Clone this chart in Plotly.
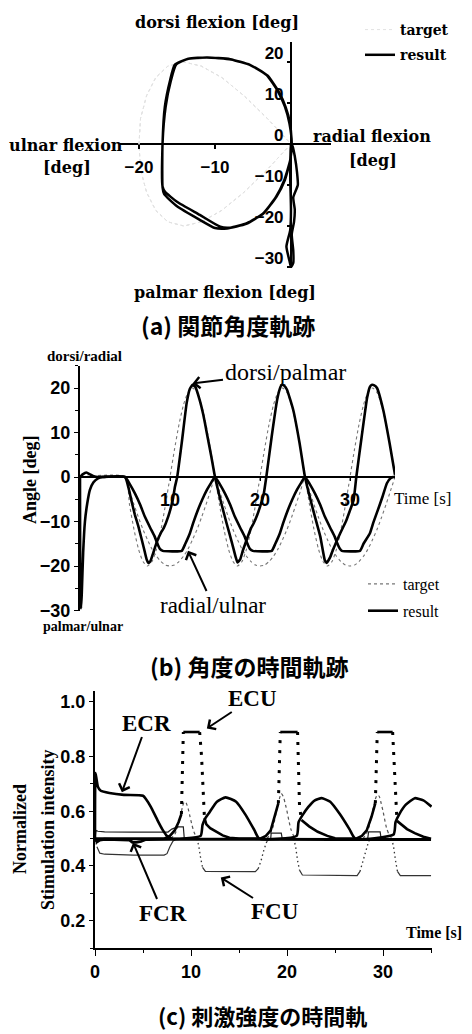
import plotly.graph_objects as go

W, H = 472, 1034

# ---------------- (a) joint angle trajectory (result: radial/ulnar vs dorsi/palmar) ----------------
traj_radial = [0.0, -0.1, 0.0, -0.1, -0.6, -0.2, 0.0, 0.3, 0.3, 0.1, 0.4, 0.5, 0.3, 0.9, 0.8, 0.5, 0.2, 0.0,
               -0.1, -0.8, -1.9, -3.6, -5.8, -8.0, -9.3, -12.0, -15.0, -16.6, -16.9, -16.9, -16.6, -15.9, -15.3,
               -13.7, -11.1, -8.0, -5.4, -3.2, -1.7, -0.8, -0.2, 0.1,
               -0.1, -0.9, -2.0, -3.7, -5.9, -8.4, -10.0, -12.0, -15.0, -16.7, -16.9, -16.9, -16.5, -15.8, -15.1,
               -13.5, -11.0, -7.9, -5.3, -3.1, -1.6, -0.7, -0.1, 0.1]
traj_dorsi = [0.0, -8.0, -16.0, -21.0, -25.0, -28.5, -30.0, -29.0, -26.0, -22.0, -19.0, -16.0, -13.0, -10.0, -7.0, -3.0, -0.5, 0.0,
              -3.9, -8.8, -12.8, -16.9, -19.3, -20.4, -20.2, -17.3, -14.1, -11.6, -10.4, 0.2, 9.1, 15.6, 19.3,
              20.7, 21.1, 20.7, 19.3, 16.8, 12.8, 9.1, 5.0, 0.2,
              -3.9, -8.9, -13.0, -17.0, -19.5, -20.6, -20.5, -18.5, -15.2, -12.2, -10.6, 0.2, 9.0, 15.5, 19.4,
              20.8, 21.1, 20.6, 19.2, 16.7, 12.7, 9.0, 4.9, 0.2]

# ---------------- (b) angle time courses ----------------
dp_time = [0, 0.05, 0.12, 0.2, 0.35, 0.55, 0.8, 1.1, 1.5, 2.0, 2.5, 5.0,
           5.4, 5.7, 6.1, 6.5, 7.1, 7.4, 7.6, 7.8, 8.0, 8.5, 9.0, 9.3, 9.8, 10.3, 10.55, 10.8, 11.3, 11.85, 12.2,
           12.5, 12.8, 13.3, 13.7, 14.1, 14.6, 15.0, 15.7, 16.3, 16.9, 17.3, 17.5,
           17.8, 18.1, 18.5, 19.0, 19.3, 19.7, 20.0, 20.4, 20.7, 21.3, 21.9, 22.2, 22.4, 22.7, 23.0, 23.7, 24.4,
           25.0, 25.9, 26.7, 27.2, 27.4,
           27.8, 28.1, 28.5, 28.9, 29.3, 29.6, 30.0, 30.4, 30.7, 31.3, 31.9, 32.2, 32.4, 32.7, 33.0, 33.7, 34.4, 35.0]
dp_result = [0, -28, -29.5, -26, -17, -10, -6, -2.9, -1.2, -0.3, 0, 0,
             -2.5, -5.2, -8.5, -11.2, -16, -18.5, -19.3, -19, -17.9, -14.8, -12.5, -11.5, -8.9, -5.2, -2.2, 0, 7.6,
             16.6, 19.8, 20.7, 20.3, 17.3, 14, 9.8, 4.5, 0, -5.9, -10.5, -14.9, -18, -19.2,
             -18.5, -16.5, -14.2, -11.5, -10.4, -8.5, -6.7, -4, 0, 9.1, 17.3, 19.8, 20.7, 20.5, 19.6, 15, 7.6,
             0, -7.4, -13.4, -18.7, -19.3,
             -18, -16.4, -14.5, -12.7, -11, -9.7, -7.5, -5.2, 0, 9.1, 17.8, 20.2, 20.7, 20.6, 20, 15, 7.6, 0.5]
ru_time = [0, 0.3, 0.7, 1.2, 1.6, 2.0, 5.0, 5.5, 6.1, 6.7, 7.2, 7.8, 8.3, 8.6, 8.9, 9.2, 11.3, 11.7, 12.2, 12.6,
           13.1, 13.6, 14.1, 14.6, 15.0,
           15.5, 16.1, 16.7, 17.2, 17.8, 18.3, 18.6, 18.9, 19.2, 21.3, 21.7, 22.2, 22.6, 23.1, 23.6, 24.1, 24.6, 25.0,
           25.5, 26.1, 26.7, 27.2, 27.8, 28.3, 28.6, 28.9, 29.1, 31.1, 31.5, 32.2, 32.6, 33.1, 33.6, 34.1, 34.5,
           34.8, 35.0]
ru_result = [0, 0.6, 1.0, 0.5, 0.1, 0, 0, -1.5, -3.7, -6.3, -8.9, -11.4, -13.4, -15, -16.2, -16.6, -16.6, -15,
             -12.7, -10.2, -7.4, -5, -2.9, -1.2, 0,
             -1.5, -3.7, -6.3, -8.9, -11.4, -13.4, -15, -16.2, -16.6, -16.6, -15, -12.7, -10.2, -7.4, -5, -2.9,
             -1.2, 0,
             -1.5, -3.7, -6.3, -8.9, -11.4, -13.4, -15, -16.2, -16.6, -16.6, -15, -12.7, -10.2, -7.4, -4.5, -1.4,
             -0.3, 0, 0]
target_time = [0, 5.0, 5.5, 6.0, 6.5, 7.0, 7.5, 8.0, 8.5, 9.0, 9.5, 10.0, 10.5, 11.0, 11.5, 12.0, 12.5, 13.0, 13.5,
               14.0, 14.5, 15.0, 15.5, 16.0, 16.5, 17.0, 17.5, 18.0, 18.5, 19.0, 19.5, 20.0, 20.5, 21.0, 21.5,
               22.0, 22.5, 23.0, 23.5, 24.0, 24.5, 25.0, 25.5, 26.0, 26.5, 27.0, 27.5, 28.0, 28.5, 29.0, 29.5,
               30.0, 30.5, 31.0, 31.5, 32.0, 32.5, 33.0, 33.5, 34.0, 34.5, 35.0]
target_dp = [0, 0, -6.2, -11.8, -16.2, -19.0, -20, -19.0, -16.2, -11.8, -6.2, 0, 6.2, 11.8, 16.2, 19.0, 20, 19.0,
             16.2, 11.8, 6.2, 0, -6.2, -11.8, -16.2, -19.0, -20, -19.0, -16.2, -11.8, -6.2, 0, 6.2, 11.8, 16.2,
             19.0, 20, 19.0, 16.2, 11.8, 6.2, 0, -6.2, -11.8, -16.2, -19.0, -20, -19.0, -16.2, -11.8, -6.2, 0,
             6.2, 11.8, 16.2, 19.0, 20, 19.0, 16.2, 11.8, 6.2, 0]
target_ru = [0, 0, -3.1, -6.2, -9.1, -11.8, -14.1, -16.2, -17.8, -19.0, -19.8, -20, -19.8, -19.0, -17.8, -16.2,
             -14.1, -11.8, -9.1, -6.2, -3.1, 0, -3.1, -6.2, -9.1, -11.8, -14.1, -16.2, -17.8, -19.0, -19.8, -20,
             -19.8, -19.0, -17.8, -16.2, -14.1, -11.8, -9.1, -6.2, -3.1, 0, -3.1, -6.2, -9.1, -11.8, -14.1, -16.2,
             -17.8, -19.0, -19.8, -20, -19.8, -19.0, -17.8, -16.2, -14.1, -11.8, -9.1, -6.2, -3.1, 0]

# ---------------- (c) normalized stimulation intensity ----------------
ecr_time = [0, 0.05, 0.15, 0.3, 0.6, 1.5, 3.0, 5.0, 5.3, 5.8, 6.5, 7.0, 7.5, 8.0,
            11.0, 11.2, 11.5, 11.9, 12.7, 13.6, 14.7, 15.7, 16.6, 17.1,
            21.0, 21.2, 21.6, 22.2, 22.9, 23.6, 24.5, 25.5, 26.5, 27.1,
            31.1, 31.3, 31.7, 32.4, 33.3, 34.2, 35.05]
ecr_val = [0.5, 0.74, 0.72, 0.69, 0.675, 0.667, 0.66, 0.657, 0.645, 0.617, 0.568, 0.535, 0.51, 0.5,
           0.51, 0.55, 0.575, 0.595, 0.635, 0.651, 0.635, 0.586, 0.531, 0.5,
           0.51, 0.56, 0.585, 0.615, 0.64, 0.648, 0.635, 0.59, 0.535, 0.5,
           0.515, 0.56, 0.59, 0.625, 0.648, 0.64, 0.617]
ecu_time = [0, 7.2, 7.8, 8.3, 8.7, 9.0, 9.1, 9.2, 10.9, 11.1, 11.3, 11.4, 11.6, 12.0, 12.6, 13.3, 14.0, 15.0,
            17.2, 17.8, 18.3, 18.8, 19.1, 19.2, 19.3, 21.1, 21.2, 21.3, 21.5, 22.3, 23.2, 24.2, 25.0,
            27.2, 27.8, 28.3, 28.8, 29.2, 29.3, 29.4, 31.0, 31.15, 31.3, 31.45, 31.8, 32.5, 33.3, 34.2, 35.0]
ecu_val = [0.5, 0.5, 0.51, 0.53, 0.56, 0.59, 0.7, 0.89, 0.89, 0.8, 0.65, 0.575, 0.552, 0.538, 0.525, 0.512, 0.503, 0.5,
           0.5, 0.51, 0.53, 0.59, 0.63, 0.75, 0.89, 0.89, 0.78, 0.62, 0.568, 0.545, 0.525, 0.51, 0.501,
           0.5, 0.51, 0.53, 0.58, 0.63, 0.75, 0.89, 0.89, 0.78, 0.63, 0.565, 0.555, 0.535, 0.52, 0.507, 0.5]
fcr_time = [0, 0.2, 0.5, 1.0, 2.0, 3.6, 3.9, 4.3, 4.8, 5.3, 8.0, 15.0, 25.0, 35.0]
fcr_val = [0.5, 0.488, 0.495, 0.498, 0.497, 0.495, 0.487, 0.487, 0.49, 0.497, 0.498, 0.497, 0.497, 0.497]
fcu_time = [0, 0.2, 0.5, 1.0, 4.0, 7.2, 7.5, 7.8, 8.1, 8.5, 10.6, 10.8, 11.0, 11.2, 11.5, 16.7, 17.0, 17.3, 17.6,
            17.9, 18.2, 20.7, 20.9, 21.1, 21.3, 21.6, 27.3, 27.6, 27.9, 28.2, 28.5, 28.8, 30.9, 31.1, 31.3, 31.5,
            31.8, 35.0]
fcu_val = [0.5, 0.47, 0.447, 0.443, 0.44, 0.44, 0.445, 0.47, 0.49, 0.5, 0.5, 0.475, 0.43, 0.395, 0.38, 0.379, 0.39,
           0.42, 0.46, 0.49, 0.5, 0.5, 0.47, 0.42, 0.385, 0.367, 0.365, 0.38, 0.42, 0.46, 0.49, 0.5, 0.5, 0.47,
           0.42, 0.38, 0.365, 0.365]
aux_time = [7.9, 8.3, 8.6, 8.9, 9.1, 9.3, 9.5, 9.7, 9.9, 10.1, 10.3, 10.6, 10.9, None,
            17.9, 18.3, 18.6, 18.9, 19.2, 19.4, 19.6, 19.8, 20.0, 20.2, 20.4, 20.7, 21.0, None,
            27.9, 28.3, 28.6, 28.9, 29.2, 29.4, 29.6, 29.8, 30.0, 30.2, 30.4, 30.7, 31.0]
aux_val = [0.5, 0.515, 0.54, 0.58, 0.615, 0.635, 0.63, 0.61, 0.58, 0.55, 0.525, 0.505, 0.5, None,
           0.5, 0.52, 0.55, 0.6, 0.645, 0.665, 0.655, 0.63, 0.6, 0.565, 0.535, 0.51, 0.5, None,
           0.5, 0.52, 0.55, 0.6, 0.645, 0.66, 0.655, 0.63, 0.6, 0.565, 0.535, 0.51, 0.5]
aux2_time = [0, 0.1, 0.3, 1.0, 4.0, 7.6, 8.0, 8.6, 9.2, 9.3, 18.3, 18.35, 19.4, 19.5, 28.4, 28.5, 29.7, 29.8, 35.0]
aux2_val = [0.5, 0.53, 0.527, 0.525, 0.524, 0.524, 0.535, 0.543, 0.543, 0.5, 0.5, 0.52, 0.52, 0.5, 0.5, 0.525,
            0.525, 0.5, 0.5]

xticks_a = [-20, -10]
yticks_a = [-30, -20, -10, 0, 10, 20]
xticks_b = [10, 20, 30]
xticks_c = [0, 10, 20, 30]

# ---------------- geometry helpers ----------------
def fx(px):
    return px / W


def fy(py):
    return 1 - py / H


A_XR, A_YR = [-22.5, 5.2], [-30.3, 25]
A_XD, A_YD = [fx(120), fx(330.5)], [fy(268.2), fy(41.5)]
B_XR, B_YR = [0, 35], [-30, 25]
B_XD, B_YD = [fx(80), fx(395)], [fy(610.5), fy(365.75)]
C_XR, C_YR = [0, 35.1], [0.1, 1.04]
C_XD, C_YD = [fx(95), fx(432)], [fy(948), fy(691)]


def frac(v, r, d):
    return d[0] + (v - r[0]) / (r[1] - r[0]) * (d[1] - d[0])


def to_px(x, y, xr, xd, yr, yd):
    return frac(x, xr, xd) * W, (1 - frac(y, yr, yd)) * H


def split_steep(t, v, thr):
    out = {False: ([], []), True: ([], [])}
    prev = None
    for i in range(len(t) - 1):
        steep = abs(v[i + 1] - v[i]) / (t[i + 1] - t[i]) > thr
        xs, ys = out[steep]
        if prev != steep:
            if xs:
                xs.append(None)
                ys.append(None)
            xs.append(t[i])
            ys.append(v[i])
        xs.append(t[i + 1])
        ys.append(v[i + 1])
        prev = steep
    return out[False], out[True]


SERIF = 'Liberation Serif'
SANS = 'Liberation Sans'
AFONT = 'DejaVu Serif'
CJK = 'Noto Sans CJK JP'

fig = go.Figure()

# ----- (a)
fig.add_trace(go.Scatter(x=target_ru, y=target_dp, mode='lines', name='target', xaxis='x', yaxis='y',
                         line=dict(color='#e2e2e2', width=1, dash='dot'), legend='legend', legendgroup='a1'))
fig.add_trace(go.Scatter(x=traj_radial, y=traj_dorsi, mode='lines', name='result', xaxis='x', yaxis='y',
                         line=dict(color='black', width=2.5, shape='spline', smoothing=0.5),
                         legend='legend', legendgroup='a2'))

# ----- (b)
fig.add_trace(go.Scatter(x=target_time, y=target_dp, mode='lines', name='target', xaxis='x2', yaxis='y2',
                         line=dict(color='#777', width=1.1, dash='dot', shape='spline', smoothing=0.6),
                         legend='legend2', legendgroup='b1'))
fig.add_trace(go.Scatter(x=target_time, y=target_ru, mode='lines', name='target', xaxis='x2', yaxis='y2',
                         line=dict(color='#777', width=1.1, dash='dot', shape='spline', smoothing=0.6),
                         legend='legend2', legendgroup='b1', showlegend=False))
fig.add_trace(go.Scatter(x=ru_time, y=ru_result, mode='lines', name='result', xaxis='x2', yaxis='y2',
                         line=dict(color='black', width=2.6, shape='spline', smoothing=0.4),
                         legend='legend2', legendgroup='b2', showlegend=False))
fig.add_trace(go.Scatter(x=dp_time, y=dp_result, mode='lines', name='result', xaxis='x2', yaxis='y2',
                         line=dict(color='black', width=2.6, shape='spline', smoothing=0.4),
                         legend='legend2', legendgroup='b2'))

# ----- (c)
fcu_solid, fcu_dot = split_steep(fcu_time, fcu_val, 0.09)
ecu_solid, ecu_dot = split_steep(ecu_time, ecu_val, 0.25)
fig.add_trace(go.Scatter(x=fcu_solid[0], y=fcu_solid[1], mode='lines', xaxis='x3', yaxis='y3', showlegend=False,
                         line=dict(color='#333', width=1.2)))
fig.add_trace(go.Scatter(x=fcu_dot[0], y=fcu_dot[1], mode='lines', xaxis='x3', yaxis='y3', showlegend=False,
                         line=dict(color='#333', width=1.3, dash='1.5px,3px')))
fig.add_trace(go.Scatter(x=aux_time, y=aux_val, mode='lines', xaxis='x3', yaxis='y3', showlegend=False,
                         line=dict(color='#555', width=1.2, dash='dot', shape='spline', smoothing=0.6)))
fig.add_trace(go.Scatter(x=aux2_time, y=aux2_val, mode='lines', xaxis='x3', yaxis='y3', showlegend=False,
                         line=dict(color='#222', width=1.2)))
fig.add_trace(go.Scatter(x=fcr_time, y=fcr_val, mode='lines', xaxis='x3', yaxis='y3', showlegend=False,
                         line=dict(color='black', width=3)))
fig.add_trace(go.Scatter(x=ecu_solid[0], y=ecu_solid[1], mode='lines', xaxis='x3', yaxis='y3', showlegend=False,
                         line=dict(color='black', width=2.6)))
fig.add_trace(go.Scatter(x=ecu_dot[0], y=ecu_dot[1], mode='lines', xaxis='x3', yaxis='y3', showlegend=False,
                         line=dict(color='black', width=3, dash='3px,7px')))
fig.add_trace(go.Scatter(x=ecr_time, y=ecr_val, mode='lines', xaxis='x3', yaxis='y3', showlegend=False,
                         line=dict(color='black', width=2.6, shape='spline', smoothing=0.5)))

# ---------------- axes ----------------
tick_a = dict(family=SANS, size=17, color='black', weight='bold')
tick_bc = dict(family=SANS, size=18, color='black', weight='bold')

fig.update_layout(
    xaxis=dict(domain=A_XD, range=A_XR, anchor='free', position=frac(0, A_YR, A_YD), automargin=False,
               showline=False, showgrid=False, zeroline=True, zerolinecolor='black', zerolinewidth=2,
               tickmode='array', tickvals=xticks_a, ticks='outside', ticklen=4, tickwidth=1.5,
               tickcolor='black', tickfont=tick_a, ticklabelstandoff=4),
    yaxis=dict(domain=A_YD, range=A_YR, anchor='free', position=frac(0, A_XR, A_XD), automargin=False,
               showline=False, showgrid=False, zeroline=True, zerolinecolor='black', zerolinewidth=2,
               tickmode='array', tickvals=yticks_a, ticks='outside', ticklen=4, tickwidth=1.5,
               tickcolor='black', tickfont=tick_a, ticklabelshift=-9),
    xaxis2=dict(domain=B_XD, range=B_XR, anchor='free', position=frac(0, B_YR, B_YD), automargin=False,
                showline=True, linecolor='black', linewidth=2, showgrid=False, zeroline=False,
                tickmode='array', tickvals=xticks_b, ticks='outside', ticklen=3, tickcolor='black',
                tickfont=tick_bc, ticklabelstandoff=3),
    yaxis2=dict(domain=B_YD, range=B_YR, anchor='x2', automargin=False, showline=True, linecolor='black',
                linewidth=2, showgrid=False, zeroline=False, tick0=0, dtick=10, ticks='outside', ticklen=4,
                tickcolor='black', tickfont=tick_bc,
                minor=dict(dtick=5, ticks='outside', ticklen=3, tickcolor='black', showgrid=False)),
    xaxis3=dict(domain=C_XD, range=C_XR, anchor='y3', automargin=False, showline=True, linecolor='black',
                linewidth=2, showgrid=False, zeroline=False, tickmode='array', tickvals=xticks_c,
                ticks='outside', ticklen=6, tickcolor='black', tickfont=tick_bc,
                minor=dict(dtick=5, ticks='outside', ticklen=3, tickcolor='black', showgrid=False)),
    yaxis3=dict(domain=C_YD, range=C_YR, anchor='x3', automargin=False, showline=True, linecolor='black',
                linewidth=2, showgrid=False, zeroline=False, tick0=0, dtick=0.2, tickformat='.1f',
                ticks='outside', ticklen=4, tickcolor='black', tickfont=tick_bc,
                minor=dict(dtick=0.1, ticks='outside', ticklen=3, tickcolor='black', showgrid=False)),
)

# ---------------- legends ----------------
fig.update_layout(
    legend=dict(x=fx(360), y=fy(14), xanchor='left', yanchor='top', traceorder='grouped', tracegroupgap=4,
                bgcolor='rgba(0,0,0,0)', font=dict(family=AFONT, size=14, color='black', weight='bold')),
    legend2=dict(x=fx(363), y=fy(567), xanchor='left', yanchor='top', traceorder='grouped', tracegroupgap=3,
                 bgcolor='rgba(0,0,0,0)', font=dict(family=SERIF, size=16, color='black')),
)

# ---------------- annotations ----------------
annos = []


def label(text, px, py, font, angle=0):
    annos.append(dict(text=text, x=fx(px), y=fy(py), xref='paper', yref='paper', showarrow=False,
                      font=font, textangle=angle, xanchor='center', yanchor='middle'))


def pointer(text, xd, yd, panel, tx, ty, font):
    if panel == 'b':
        hx, hy = to_px(xd, yd, B_XR, B_XD, B_YR, B_YD)
        xr, yr = 'x2', 'y2'
    else:
        hx, hy = to_px(xd, yd, C_XR, C_XD, C_YR, C_YD)
        xr, yr = 'x3', 'y3'
    annos.append(dict(text=text, x=xd, y=yd, xref=xr, yref=yr, showarrow=True, ax=tx - hx, ay=ty - hy,
                      arrowhead=4, arrowsize=1.1, arrowwidth=2, arrowcolor='black', font=font))


fa = dict(family=AFONT, size=16, color='black', weight='bold')
label('dorsi flexion [deg]', 217, 22, fa)
label('palmar flexion [deg]', 225, 292, fa)
label('ulnar flexion', 66, 146, fa)
label('[deg]', 67, 168, fa)
label('radial flexion', 372, 136, fa)
label('[deg]', 373, 160, fa)

fcap = dict(family=CJK, size=23, color='black', weight='bold')
label('(a) 関節角度軌跡', 228, 325, fcap)
label('(b) 角度の時間軌跡', 249, 666, fcap)
label('(c) 刺激強度の時間軌', 262, 1015, dict(family=CJK, size=22, color='black', weight='bold'))

fs15 = dict(family=SERIF, size=15, color='black', weight='bold')
label('dorsi/radial', 84, 356, fs15)
label('palmar/ulnar', 83, 626, dict(family=SERIF, size=14, color='black', weight='bold'))
label('Angle [deg]', 30, 480, dict(family=SERIF, size=18, color='black', weight='bold'), -90)
label('Time [s]', 422, 499, dict(family=SERIF, size=17, color='black'))

label('Normalized', 20, 829, dict(family=SERIF, size=18, color='black', weight='bold'), -90)
label('Stimulation intensity', 48, 830, dict(family=SERIF, size=18, color='black', weight='bold'), -90)
label('Time [s]', 434, 932, dict(family=SERIF, size=16, color='black', weight='bold'))

pointer('dorsi/palmar', 12.5, 21.0, 'b', 285, 372, dict(family=SERIF, size=24, color='black'))
pointer('radial/ulnar', 12.0, -16.6, 'b', 213, 605, dict(family=SERIF, size=23, color='black'))

fc = dict(family=SERIF, size=23, color='black', weight='bold')
pointer('ECR', 2.8, 0.67, 'c', 147, 723, fc)
pointer('ECU', 11.65, 0.903, 'c', 253, 698, fc)
pointer('FCR', 3.96, 0.485, 'c', 163, 913, fc)
pointer('FCU', 13.1, 0.358, 'c', 275, 912, fc)

fig.update_layout(annotations=annos, width=W, height=H, margin=dict(l=0, r=0, t=0, b=0, pad=0),
                  paper_bgcolor='white', plot_bgcolor='white', showlegend=True)

fig.write_html('out.html', config={'displayModeBar': False},
               post_script="document.body.style.margin='0';document.body.style.overflow='hidden';")
